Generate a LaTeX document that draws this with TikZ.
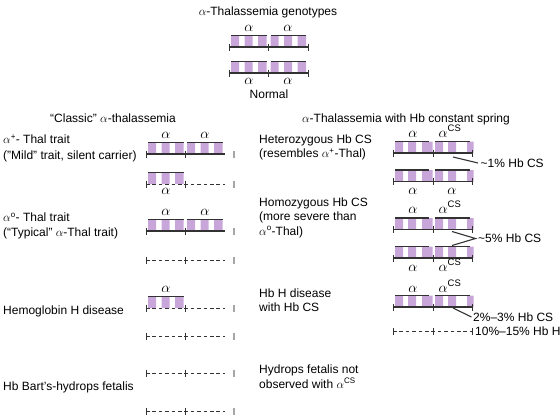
\documentclass[tikz,border=0pt]{standalone}
\usepackage{fontspec}
\setmainfont{Liberation Sans}
\usepackage{xcolor}

\definecolor{genepurple}{RGB}{201,166,217}
\definecolor{linegray}{RGB}{50,50,50}

\tikzset{
  genefill/.style={fill=genepurple},
  topline/.style={draw=linegray, line width=1.4pt},
  solidline/.style={draw=linegray, line width=1.3pt},
  dashline/.style={draw=linegray, line width=0.9pt, dash pattern=on 3.6pt off 2.8pt},
  tickline/.style={draw=linegray, line width=0.9pt},
  endtick/.style={draw=gray!70, line width=1.2pt},
  pointer/.style={draw=linegray, line width=1.1pt},
  lbl/.style={anchor=base west, align=left, inner sep=0pt, font=\fontsize{12}{14.5}\selectfont},
  pct/.style={anchor=west, inner xsep=2.5pt, inner ysep=0pt, font=\fontsize{12}{14.5}\selectfont},
  ttl/.style={anchor=base, inner sep=0pt, font=\fontsize{12}{14.5}\selectfont},
  glbl/.style={anchor=base, inner sep=0pt, font=\fontsize{13.5}{15}\selectfont},
}

% gene with three exon bands; #1 = left tick, #2 = baseline
\newcommand{\normgene}[2]{%
  \fill[genefill] (#1+2,#2-11.5) rectangle (#1+10,#2)
    (#1+15.5,#2-11.5) rectangle (#1+23.5,#2)
    (#1+29,#2-11.5) rectangle (#1+37.5,#2);
  \draw[topline] (#1+2,#2-11.5) -- (#1+37.5,#2-11.5);}
\newcommand{\csgenea}[2]{%
  \fill[genefill] (#1+2,#2-11.5) rectangle (#1+10,#2)
    (#1+15,#2-11.5) rectangle (#1+23,#2)
    (#1+29,#2-11.5) rectangle (#1+39.5,#2);
  \draw[topline] (#1+2,#2-11.5) -- (#1+36,#2-11.5);}
\newcommand{\csgeneb}[2]{%
  \fill[genefill] (#1+2,#2-11.5) rectangle (#1+10,#2)
    (#1+15,#2-11.5) rectangle (#1+23,#2)
    (#1+34,#2-11.5) rectangle (#1+40.5,#2);
  \draw[topline] (#1+2,#2-11.5) -- (#1+37,#2-11.5);}

% chromosome rows
\newcommand{\normrow}[1]{%
  \draw[solidline] (229,#1) -- (308,#1);
  \foreach \tx in {229,268.5,308} \draw[tickline] (\tx,#1-3.5) -- (\tx,#1+3.5);}
\newcommand{\leftrow}[2]{%
  \draw[#1] (146,#2) -- (225,#2);
  \foreach \tx in {146,185} \draw[tickline] (\tx,#2-3.5) -- (\tx,#2+3.5);
  \draw[endtick] (234,#2-3.5) -- (234,#2+3.5);}
\newcommand{\rightrow}[2]{%
  \draw[#1] (393,#2) -- (472,#2);
  \foreach \tx in {393,433,472} \draw[tickline] (\tx,#2-3.5) -- (\tx,#2+3.5);}

\begin{document}
\begin{tikzpicture}[x=1pt,y=-1pt]
  \useasboundingbox (0,0) rectangle (560,418);

  % normal
  \node[ttl] (title) at (268,15.5) {\(\alpha\)-Thalassemia genotypes};
  \normgene{229}{47} \normgene{268.5}{47} \normrow{47}
  \normgene{229}{73} \normgene{268.5}{73} \normrow{73}
  \node[glbl] (nA1) at (249,31) {\(\alpha\)};
  \node[glbl] (nA2) at (288,31) {\(\alpha\)};
  \node[glbl] (nB1) at (249,84) {\(\alpha\)};
  \node[glbl] (nB2) at (288,84) {\(\alpha\)};
  \node[ttl] (normal) at (269,98.3) {Normal};

  % classic alpha-thalassemia
  \node[ttl] (ltitle) at (113,122.3) {“Classic” \(\alpha\)-thalassemia};
  \node[lbl] (plus) at (3,159.3) {\(\alpha\)\textsuperscript{+}- Thal trait\\[1pt](”Mild” trait, silent carrier)};
  \node[lbl] (zero) at (3,236.7) {\(\alpha\)\textsuperscript{o}- Thal trait\\[0.5pt](“Typical” \(\alpha\)-Thal trait)};
  \node[lbl] (hbh) at (3,314) {Hemoglobin H disease};
  \node[lbl] (barts) at (3,390) {Hb Bart’s-hydrops fetalis};

  \normgene{146}{154} \normgene{185}{154} \leftrow{solidline}{154}
  \node[glbl] (l1a) at (166,138) {\(\alpha\)};
  \node[glbl] (l1b) at (205,138) {\(\alpha\)};
  \normgene{146}{184} \leftrow{dashline}{184}
  \node[glbl] (l2a) at (166,194) {\(\alpha\)};
  \normgene{146}{231} \normgene{185}{231} \leftrow{solidline}{231}
  \node[glbl] (l3a) at (166,215) {\(\alpha\)};
  \node[glbl] (l3b) at (205,215) {\(\alpha\)};
  \leftrow{dashline}{260}
  \normgene{146}{308} \leftrow{dashline}{308}
  \node[glbl] (l5a) at (166,292) {\(\alpha\)};
  \leftrow{dashline}{336}
  \leftrow{dashline}{373}
  \leftrow{dashline}{411}

  % Hb constant spring
  \node[ttl] (rtitle) at (406,122.3) {\(\alpha\)-Thalassemia with Hb constant spring};
  \node[lbl] (hetero) at (259,157.7) {Heterozygous Hb CS\\(resembles \(\alpha\)\textsuperscript{+}-Thal)};
  \node[lbl] (homo) at (259,235) {Homozygous Hb CS\\(more severe than\\\(\alpha\)\textsuperscript{o}-Thal)};
  \node[lbl] (hbhcs) at (259,311.7) {Hb H disease\\with Hb CS};
  \node[lbl] (hydrops) at (259,388) {Hydrops fetalis not\\observed with \(\alpha\)\textsuperscript{CS}};

  \csgenea{393}{153} \csgeneb{433}{153} \rightrow{solidline}{153}
  \node[glbl] (r1a) at (413,137) {\(\alpha\)};
  \node[glbl] (r1b) at (450,137) {\(\alpha\)\textsuperscript{CS}};
  \csgenea{393}{181.5} \csgeneb{433}{181.5} \rightrow{solidline}{181.5}
  \node[glbl] (r2a) at (413,194.5) {\(\alpha\)};
  \node[glbl] (r2b) at (452,194.5) {\(\alpha\)};
  \csgenea{393}{229.5} \csgeneb{433}{229.5} \rightrow{solidline}{229.5}
  \node[glbl] (r3a) at (413,213) {\(\alpha\)};
  \node[glbl] (r3b) at (450,213) {\(\alpha\)\textsuperscript{CS}};
  \csgenea{393}{258} \csgeneb{433}{258} \rightrow{solidline}{258}
  \node[glbl] (r4a) at (413,271) {\(\alpha\)};
  \node[glbl] (r4b) at (450,271) {\(\alpha\)\textsuperscript{CS}};
  \csgenea{393}{307} \csgeneb{433}{307} \rightrow{solidline}{307}
  \node[glbl] (r5a) at (413,292) {\(\alpha\)};
  \node[glbl] (r5b) at (450,292) {\(\alpha\)\textsuperscript{CS}};
  \rightrow{dashline}{331.5}

  % percentages
  \node[pct] (pct1) at (478,163) {\textasciitilde1\% Hb CS};
  \coordinate (p1) at (453,157);
  \draw[pointer] (p1) -- (pct1.west);
  \node[pct] (pct2) at (475.5,238.5) {\textasciitilde5\% Hb CS};
  \coordinate (v1) at (452,231.5);
  \coordinate (v2) at (452,245.5);
  \draw[pointer] (v1) -- (pct2.west) -- (v2);
  \node[pct, inner xsep=1.5pt] (pct3) at (471.5,317) {2\%–3\% Hb CS};
  \coordinate (p3) at (453,308);
  \draw[pointer] (p3) -- (pct3.west);
  \node[pct, inner xsep=0pt] (pct4) at (475,331.5) {10\%–15\% Hb H};
\end{tikzpicture}
\end{document}
